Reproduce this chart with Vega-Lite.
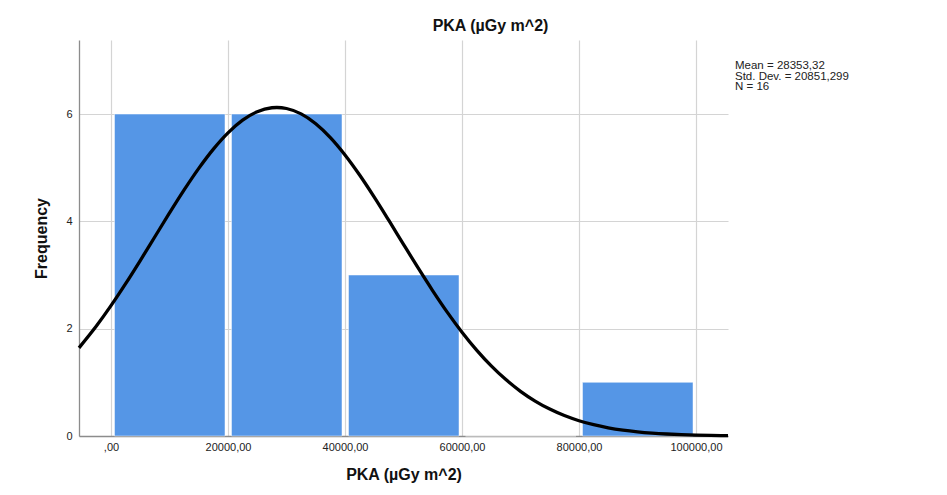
{
  "$schema": "https://vega.github.io/schema/vega-lite/v6.json",
  "autosize": {"type": "none"},
  "width": 649,
  "height": 396,
  "padding": {"left": 79, "top": 40, "right": 219, "bottom": 59},
  "background": "white",
  "config": {
    "font": "Liberation Sans",
    "view": {"stroke": null},
    "axis": {
      "labelFont": "Liberation Sans",
      "titleFont": "Liberation Sans",
      "labelColor": "#222222",
      "titleColor": "#111111",
      "gridColor": "#d4d4d4",
      "gridWidth": 1.2,
      "domainColor": "#8c8c8c",
      "domainWidth": 1.3,
      "ticks": false
    }
  },
  "title": {
    "text": "PKA (µGy m^2)",
    "fontSize": 16,
    "fontWeight": "bold",
    "font": "Liberation Sans",
    "color": "#111111",
    "anchor": "middle",
    "dx": 87,
    "offset": 6
  },
  "datasets": {
    "bins": [
      {"bin_start": 0, "bin_end": 20000, "count": 6},
      {"bin_start": 20000, "bin_end": 40000, "count": 6},
      {"bin_start": 40000, "bin_end": 60000, "count": 3},
      {"bin_start": 60000, "bin_end": 80000, "count": 0},
      {"bin_start": 80000, "bin_end": 100000, "count": 1}
    ],
    "curve": [
      {"pka": -5470, "freq": 1.643},
      {"pka": -2500, "freq": 2.0488},
      {"pka": 0, "freq": 2.4289},
      {"pka": 2500, "freq": 2.8386},
      {"pka": 5000, "freq": 3.27},
      {"pka": 7500, "freq": 3.7131},
      {"pka": 10000, "freq": 4.1563},
      {"pka": 12500, "freq": 4.5859},
      {"pka": 15000, "freq": 4.9876},
      {"pka": 17500, "freq": 5.3468},
      {"pka": 20000, "freq": 5.6504},
      {"pka": 22500, "freq": 5.886},
      {"pka": 25000, "freq": 6.0438},
      {"pka": 27500, "freq": 6.1174},
      {"pka": 28353, "freq": 6.1225},
      {"pka": 30000, "freq": 6.1034},
      {"pka": 32500, "freq": 6.0026},
      {"pka": 35000, "freq": 5.8192},
      {"pka": 37500, "freq": 5.5609},
      {"pka": 40000, "freq": 5.2382},
      {"pka": 42500, "freq": 4.8639},
      {"pka": 45000, "freq": 4.4517},
      {"pka": 47500, "freq": 4.0164},
      {"pka": 50000, "freq": 3.5719},
      {"pka": 52500, "freq": 3.1312},
      {"pka": 55000, "freq": 2.7059},
      {"pka": 57500, "freq": 2.3047},
      {"pka": 60000, "freq": 1.9351},
      {"pka": 62500, "freq": 1.6017},
      {"pka": 65000, "freq": 1.3067},
      {"pka": 67500, "freq": 1.051},
      {"pka": 70000, "freq": 0.8331},
      {"pka": 72500, "freq": 0.651},
      {"pka": 75000, "freq": 0.5014},
      {"pka": 77500, "freq": 0.3807},
      {"pka": 80000, "freq": 0.2849},
      {"pka": 82500, "freq": 0.2101},
      {"pka": 85000, "freq": 0.1528},
      {"pka": 87500, "freq": 0.1095},
      {"pka": 90000, "freq": 0.0774},
      {"pka": 92500, "freq": 0.0539},
      {"pka": 95000, "freq": 0.037},
      {"pka": 97500, "freq": 0.025},
      {"pka": 100000, "freq": 0.0167},
      {"pka": 102500, "freq": 0.011},
      {"pka": 105470, "freq": 0.0066}
    ],
    "stats": [
      {"label": "Mean = 28353,32\nStd. Dev. = 20851,299\nN = 16"}
    ]
  },
  "layer": [
    {
      "data": {"name": "bins"},
      "mark": {"type": "bar", "color": "#5596e6", "xOffset": 3.5, "x2Offset": -3, "stroke": "#ffffff", "strokeWidth": 0.8, "strokeOpacity": 0.6},
      "encoding": {
        "x": {
          "field": "bin_start",
          "type": "quantitative",
          "scale": {"domain": [-5470, 105470], "nice": false, "zero": false},
          "axis": {
            "values": [0, 20000, 40000, 60000, 80000, 100000],
            "labelExpr": "datum.value == 0 ? ',00' : replace(format(datum.value, '.2f'), '.', ',')",
            "labelFontSize": 11,
            "labelPadding": 5,
            "title": "PKA (µGy m^2)",
            "titleFontSize": 16,
            "titleFontWeight": "bold",
            "titlePadding": 14,
            "grid": true
          }
        },
        "x2": {"field": "bin_end"},
        "y": {
          "field": "count",
          "type": "quantitative",
          "scale": {"domain": [0, 7.38], "nice": false},
          "axis": {
            "values": [0, 2, 4, 6],
            "format": "d",
            "labelFontSize": 11,
            "labelPadding": 7,
            "title": "Frequency",
            "titleFontSize": 16,
            "titleFontWeight": "bold",
            "titlePadding": 16,
            "grid": true
          }
        },
        "y2": {"datum": 0}
      }
    },
    {
      "data": {"name": "curve"},
      "mark": {"type": "line", "color": "#000000", "strokeWidth": 3.3, "interpolate": "monotone"},
      "encoding": {
        "x": {"field": "pka", "type": "quantitative"},
        "y": {"field": "freq", "type": "quantitative"}
      }
    },
    {
      "data": {"name": "stats"},
      "mark": {"type": "text", "align": "left", "baseline": "top", "lineBreak": "\n", "fontSize": 11.5, "lineHeight": 10.5, "color": "#222222", "font": "Liberation Sans", "clip": false},
      "encoding": {
        "x": {"datum": 106667, "type": "quantitative"},
        "y": {"datum": 7.0, "type": "quantitative"},
        "text": {"field": "label"}
      }
    }
  ]
}
